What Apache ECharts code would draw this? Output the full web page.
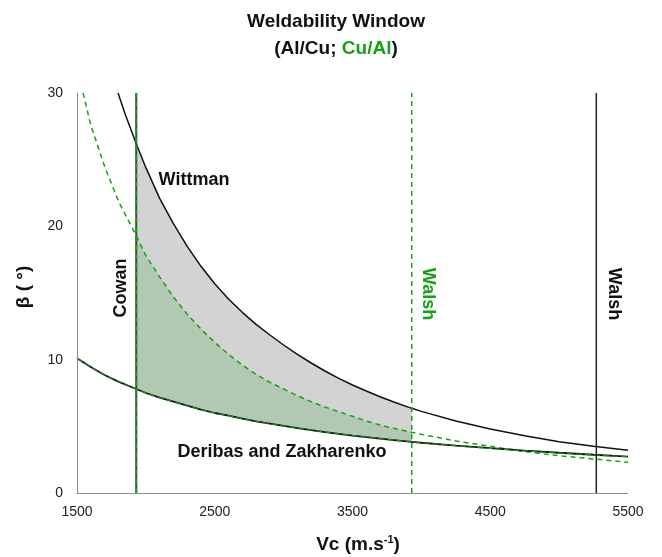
<!DOCTYPE html>
<html>
<head>
<meta charset="utf-8">
<script src="https://cdn.jsdelivr.net/npm/echarts@6/dist/echarts.min.js"></script>
<style>
html,body{margin:0;padding:0;background:#fff;}
#chart{width:662px;height:557px;}
</style>
</head>
<body>
<div id="chart"></div>
<script>
// ---- data ----
const xTicks = [1500, 2500, 3500, 4500, 5500];
const yTicks = [0, 10, 20, 30];

// Wittman upper limit, Al/Cu (black solid)
const wittmanAlCuX = [1798, 1850, 1930, 2000, 2100, 2200, 2300, 2400, 2500, 2600, 2700, 2800, 2900, 3000, 3100, 3200, 3300, 3400, 3500, 3600, 3700, 3800, 3930, 4000, 4250, 4500, 4750, 5000, 5250, 5500];
const wittmanAlCuY = [30, 28.4, 26.2, 24.4, 22.1, 20.2, 18.5, 17.0, 15.7, 14.55, 13.55, 12.65, 11.85, 11.1, 10.4, 9.75, 9.15, 8.6, 8.1, 7.65, 7.22, 6.82, 6.35, 6.12, 5.4, 4.8, 4.3, 3.85, 3.5, 3.2];

// Wittman upper limit, Cu/Al (green dashed)
const wittmanCuAlX = [1544, 1600, 1700, 1800, 1930, 2000, 2100, 2200, 2300, 2400, 2500, 2600, 2700, 2800, 2900, 3000, 3100, 3200, 3300, 3400, 3500, 3600, 3700, 3800, 3930, 4000, 4250, 4500, 4750, 5000, 5250, 5500];
const wittmanCuAlY = [30, 27.6, 24.5, 21.9, 19.3, 17.8, 16.2, 14.7, 13.4, 12.3, 11.3, 10.4, 9.6, 8.9, 8.3, 7.8, 7.3, 6.85, 6.45, 6.1, 5.75, 5.4, 5.1, 4.85, 4.55, 4.4, 3.9, 3.5, 3.1, 2.8, 2.55, 2.3];

// Deribas and Zakharenko lower limit (Al/Cu black, Cu/Al green)
const deribasX = [1500, 1600, 1700, 1800, 1930, 2000, 2100, 2200, 2300, 2400, 2500, 2600, 2700, 2800, 2900, 3000, 3100, 3200, 3300, 3400, 3500, 3600, 3700, 3800, 3930, 4000, 4250, 4500, 4750, 5000, 5250, 5500];
const deribasAlCuY = [10.1, 9.45, 8.85, 8.35, 7.8, 7.5, 7.15, 6.85, 6.55, 6.25, 6.0, 5.8, 5.57, 5.38, 5.2, 5.03, 4.87, 4.72, 4.57, 4.44, 4.31, 4.19, 4.08, 3.97, 3.83, 3.77, 3.56, 3.36, 3.18, 3.02, 2.87, 2.73];
const deribasCuAlY = [10.1, 9.45, 8.85, 8.35, 7.8, 7.5, 7.15, 6.85, 6.55, 6.25, 6.0, 5.8, 5.57, 5.38, 5.2, 5.03, 4.87, 4.72, 4.57, 4.44, 4.31, 4.19, 4.08, 3.97, 3.83, 3.77, 3.55, 3.34, 3.16, 3.0, 2.85, 2.72];

// vertical limits
const cowanX = 1930;
const walshCuAlX = 3930;
const walshAlCuX = 5270;

// shaded window range
const shadeX = [1930, 2000, 2100, 2200, 2300, 2400, 2500, 2600, 2700, 2800, 2900, 3000, 3100, 3200, 3300, 3400, 3500, 3600, 3700, 3800, 3930];

// ---- build ----
const GREEN = '#16a016';
const FONT = '"Liberation Sans", Arial, sans-serif';
const pairs = (xs, ys) => xs.map((x, i) => [x, ys[i]]);
const sub = (xs, ys) => shadeX.map(x => [x, ys[xs.indexOf(x)]]);

const noLine = { opacity: 0, width: 0 };
const SM = false;
const chart = echarts.init(document.getElementById('chart'), null, { renderer: 'canvas' });

const vline = (x, color, type, width, z) => ({
  type: 'line', data: [[x, yTicks[0]], [x, yTicks[yTicks.length - 1]]],
  symbol: 'none', silent: true, z: z,
  lineStyle: { color: color, type: type, width: width }
});
const area = (data, color) => ({
  type: 'line', data: data, symbol: 'none', smooth: SM, silent: true, z: 1,
  lineStyle: noLine, areaStyle: { color: color, opacity: 1, origin: 'start' }
});
const curve = (data, color, width, type, z) => ({
  type: 'line', data: data, symbol: 'none', smooth: SM, silent: true, z: z,
  lineStyle: { color: color, width: width, type: type }
});

const axisCommon = {
  type: 'value', z: 20,
  axisLine: { show: true, lineStyle: { color: '#8c8c8c', width: 1 } },
  axisTick: { show: false }, splitLine: { show: false },
  axisLabel: { color: '#222', fontSize: 14, fontFamily: FONT, formatter: v => String(v) }
};

const txt = (x, y, text, color, size, rot) => ({
  type: 'text', x: x, y: y, rotation: rot || 0, z: 100,
  style: { text: text, font: 'bold ' + size + 'px ' + FONT, fill: color, align: 'center', verticalAlign: 'middle' }
});

chart.setOption({
  animation: false,
  grid: { left: 77, right: 34, top: 93, bottom: 64, containLabel: false },
  xAxis: Object.assign({}, axisCommon, {
    min: xTicks[0], max: xTicks[xTicks.length - 1], interval: 1000,
    axisLabel: Object.assign({}, axisCommon.axisLabel, { margin: 12 })
  }),
  yAxis: Object.assign({}, axisCommon, {
    min: yTicks[0], max: yTicks[yTicks.length - 1], interval: 10,
    axisLabel: Object.assign({}, axisCommon.axisLabel, { margin: 14 })
  }),
  series: [
    area(sub(wittmanAlCuX, wittmanAlCuY), '#d3d3d3'),
    area(sub(wittmanCuAlX, wittmanCuAlY), '#b3c8b2'),
    area(sub(deribasX, deribasAlCuY), '#ffffff'),
    curve(pairs(wittmanAlCuX, wittmanAlCuY), '#111', 1.5, 'solid', 3),
    curve(pairs(wittmanCuAlX, wittmanCuAlY), GREEN, 1.5, [5, 4], 3),
    curve(pairs(deribasX, deribasAlCuY), '#111', 1.8, 'solid', 3),
    curve(pairs(deribasX, deribasCuAlY), GREEN, 1, [6, 3], 4),
    vline(cowanX, '#444', 'solid', 2, 5),
    vline(cowanX, GREEN, [5, 4], 2, 6),
    vline(walshCuAlX, GREEN, [5, 4], 1.5, 5),
    vline(walshAlCuX, '#222', 'solid', 1.5, 5)
  ],
  graphic: [
    txt(336, 22, 'Weldability Window', '#111', 19),
    { type: 'text', x: 336, y: 49, z: 100, style: {
      text: '{b|(Al/Cu; }{g|Cu/Al}{b|)}', align: 'center', verticalAlign: 'middle',
      rich: { b: { font: 'bold 19px ' + FONT, fill: '#111' }, g: { font: 'bold 19px ' + FONT, fill: GREEN } } } },
    txt(24, 287, 'β ( °)', '#111', 19, Math.PI / 2),
    { type: 'text', x: 358, y: 545, z: 100, style: {
      text: '{b|Vc (m.s}{s|-1}{b|)}', align: 'center', verticalAlign: 'middle',
      rich: { b: { font: 'bold 19px ' + FONT, fill: '#111', lineHeight: 22 }, s: { font: 'bold 11px ' + FONT, fill: '#111', padding: [0, 0, 10, 0] } } } },
    txt(194, 180, 'Wittman', '#111', 18),
    txt(121, 288, 'Cowan', '#111', 18, Math.PI / 2),
    txt(428, 294, 'Walsh', GREEN, 18, -Math.PI / 2),
    txt(614, 294, 'Walsh', '#111', 18, -Math.PI / 2),
    txt(282, 452, 'Deribas and Zakharenko', '#111', 18)
  ]
});
</script>
</body>
</html>
